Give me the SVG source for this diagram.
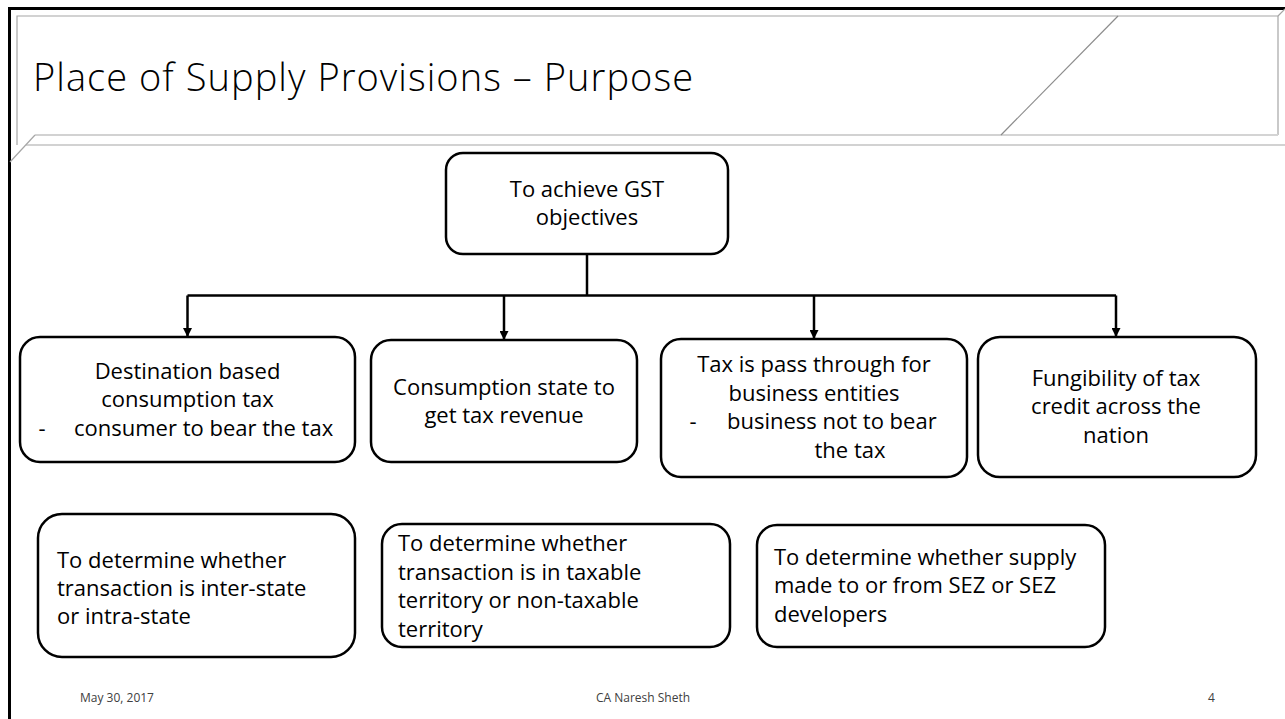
<svg xmlns="http://www.w3.org/2000/svg" width="1285" height="719" viewBox="0 0 1285 719">
<style>
  .frame { stroke: #000; stroke-width: 3; fill: none; }
  .hdr { stroke: #a6a6a6; stroke-width: 1.2; fill: none; }
  .box { fill: #fff; stroke: #000; stroke-width: 2.5; }
  .conn { stroke: #000; stroke-width: 2.5; fill: none; }
  text { font-family: "Open Sans", "Noto Sans", "Liberation Sans", sans-serif; fill: #000; }
  .t { font-size: 22px; }
  .c { text-anchor: middle; }
  .title { font-size: 38px; font-weight: 300; }
  .foot { font-size: 12px; fill: #404040; }
</style>
<defs>
  <marker id="arr" markerUnits="userSpaceOnUse" markerWidth="9" markerHeight="9" viewBox="0 0 9 9" refX="9" refY="4.5" orient="auto">
    <path d="M0,0 L9,4.5 L0,9 z" fill="#000"/>
  </marker>
</defs>
<rect width="1285" height="719" fill="#fff"/>
<g id="frame">
  <path class="frame" d="M9.5,719 V8.5 H1285"/>
  <path class="hdr" d="M1278,135 V16 H17 V145"/>
  <path class="hdr" d="M26,145 H1285"/>
  <path class="hdr" d="M35,135 H1001"/>
  <path d="M1001,135 H1278" stroke="#d4d4d4" stroke-width="2" fill="none"/>
  <path class="hdr" d="M35,135 L10,162"/>
  <path d="M1118,16 L1001,135" stroke="#8c8c8c" stroke-width="1.2" fill="none"/>
  <path class="hdr" d="M1278,16 L1285,9"/>
  <text class="title" x="33" y="91" textLength="660">Place of Supply Provisions – Purpose</text>
</g>
<g id="connectors">
  <path class="conn" d="M587,254 V295.5"/>
  <path class="conn" d="M187.5,295.5 H1116"/>
  <path class="conn" d="M187.5,295.5 V337" marker-end="url(#arr)"/>
  <path class="conn" d="M504,295.5 V340" marker-end="url(#arr)"/>
  <path class="conn" d="M814,295.5 V339" marker-end="url(#arr)"/>
  <path class="conn" d="M1116,295.5 V337" marker-end="url(#arr)"/>
</g>
<g id="node-root">
  <rect class="box" x="446" y="153" width="282" height="101" rx="17"/>
  <text class="t c" x="587" y="197">To achieve GST</text>
  <text class="t c" x="587" y="225">objectives</text>
</g>
<g id="node-destination">
  <rect class="box" x="20" y="337" width="335" height="125" rx="20"/>
  <text class="t c" x="187.5" y="379">Destination based</text>
  <text class="t c" x="187.5" y="407">consumption tax</text>
  <text class="t c" x="42" y="436">-</text>
  <text class="t" x="74" y="436">consumer to bear the tax</text>
</g>
<g id="node-consumption">
  <rect class="box" x="371" y="340" width="266" height="122" rx="20"/>
  <text class="t c" x="504" y="395">Consumption state to</text>
  <text class="t c" x="504" y="423">get tax revenue</text>
</g>
<g id="node-passthrough">
  <rect class="box" x="661" y="339" width="306" height="138" rx="20"/>
  <text class="t c" x="814" y="372">Tax is pass through for</text>
  <text class="t c" x="814" y="401">business entities</text>
  <text class="t c" x="693" y="429">-</text>
  <text class="t" x="727" y="429">business not to bear</text>
  <text class="t c" x="850" y="458">the tax</text>
</g>
<g id="node-fungibility">
  <rect class="box" x="978" y="337" width="278" height="140" rx="22"/>
  <text class="t c" x="1116" y="386">Fungibility of tax</text>
  <text class="t c" x="1116" y="414">credit across the</text>
  <text class="t c" x="1116" y="443">nation</text>
</g>
<g id="node-interstate">
  <rect class="box" x="38" y="514" width="317" height="143" rx="24"/>
  <text class="t" x="57" y="568">To determine whether</text>
  <text class="t" x="57" y="596">transaction is inter-state</text>
  <text class="t" x="57" y="624">or intra-state</text>
</g>
<g id="node-territory">
  <rect class="box" x="382" y="524" width="348" height="123" rx="20"/>
  <text class="t" x="398" y="551">To determine whether</text>
  <text class="t" x="398" y="580">transaction is in taxable</text>
  <text class="t" x="398" y="608">territory or non-taxable</text>
  <text class="t" x="398" y="637">territory</text>
</g>
<g id="node-sez">
  <rect class="box" x="757" y="525" width="348" height="122" rx="20"/>
  <text class="t" x="774" y="565">To determine whether supply</text>
  <text class="t" x="774" y="593">made to or from SEZ or SEZ</text>
  <text class="t" x="774" y="622">developers</text>
</g>
<g id="footer">
  <text class="foot" x="80" y="702">May 30, 2017</text>
  <text class="foot c" x="643" y="702">CA Naresh Sheth</text>
  <text class="foot" x="1208" y="702">4</text>
</g>
</svg>
